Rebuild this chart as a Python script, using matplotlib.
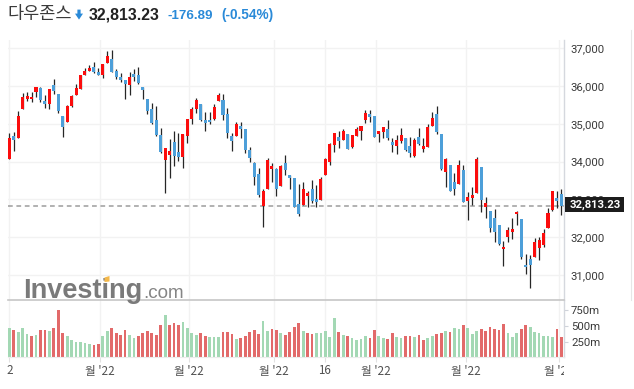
import matplotlib
matplotlib.use("Agg")
import matplotlib.pyplot as plt
import numpy as np
from matplotlib.transforms import Bbox, TransformedBbox, blended_transform_factory
from matplotlib.patches import Polygon, Rectangle
from matplotlib.lines import Line2D

# ---------------- data ----------------
opens = [
    34078, 34678, 34634, 35393, 35666, 35666, 35834, 35940, 35605, 35534,
    36028, 35790, 35208, 35058, 35481, 35772, 35931, 36302, 36408, 36505,
    36372, 36302, 36619, 36716, 36408, 36240, 36161, 36028, 36319, 36293,
    35975, 35658, 35393, 35102, 34705, 34043, 34184, 34519, 34255, 34122,
    34687, 35137, 35384, 35525, 35102, 35102, 35137, 35614, 35631, 35261,
    34678, 34687, 34943, 34864, 34308, 33972, 33673, 32834, 33284, 33813,
    33805, 33363, 33956, 33646, 33567, 32879, 32852, 33090, 33268, 33011,
    32985, 33646, 33998, 34440, 34644, 34573, 34731, 34395, 34679, 34819,
    35102, 35261, 35208, 34739, 34792, 34864, 34528, 34422, 34554, 34634,
    34414, 34149, 34644, 34342, 34395, 34951, 35261, 34731, 33734, 33911,
    33469, 33408, 33779, 32958, 33045, 33178, 33850, 32791, 32693, 32500,
    32323, 31680, 31997, 32145, 32614, 32474, 31264, 31423, 31484, 31722,
    31794, 32251, 32720, 33030, 33135]
highs = [
    34749, 34775, 35340, 35808, 35843, 35843, 35984, 35966, 35755, 35931,
    36178, 35790, 35208, 35499, 35764, 36046, 36293, 36487, 36558, 36646,
    36469, 36584, 36928, 36955, 36443, 36355, 36161, 36381, 36443, 36496,
    35975, 35658, 35552, 35464, 34881, 34361, 34590, 34802, 34749, 34731,
    35128, 35437, 35684, 35525, 35305, 35305, 35525, 35808, 35781, 35411,
    34749, 35040, 35040, 34864, 34396, 33999, 33824, 33268, 34104, 33956,
    33840, 33911, 34168, 33646, 33567, 33408, 33453, 33231, 33514, 33382,
    33601, 34088, 34501, 34766, 34811, 34864, 34731, 34697, 34925, 34943,
    35367, 35367, 35208, 34811, 34917, 35102, 34618, 34705, 34882, 34634,
    34644, 34618, 34882, 34618, 34988, 35322, 35473, 34731, 34088, 33911,
    33707, 34043, 33911, 33204, 33321, 34131, 33850, 33056, 32693, 32738,
    32323, 31907, 32262, 32500, 32701, 32474, 31555, 31529, 31971, 31997,
    32225, 32765, 33223, 33231, 33268]
lows = [
    34078, 34272, 34634, 35393, 35596, 35569, 35702, 35587, 35428, 35384,
    35790, 35278, 34661, 35058, 35437, 35772, 35931, 36302, 36408, 36337,
    36302, 36222, 36619, 36372, 36187, 36099, 35649, 35764, 36143, 36046,
    35649, 35252, 34996, 34678, 34219, 33162, 33559, 33875, 34025, 33824,
    34484, 34996, 35278, 35066, 34811, 34987, 35102, 35614, 35102, 34617,
    34290, 34687, 34634, 34237, 33981, 33374, 33072, 32278, 33284, 33469,
    33098, 33363, 33638, 33268, 32807, 32569, 32852, 32791, 32897, 32807,
    32985, 33646, 33911, 34263, 34353, 34573, 34342, 34353, 34679, 34573,
    35031, 35057, 34660, 34528, 34618, 34573, 34263, 34202, 34485, 34282,
    34115, 34130, 34440, 34263, 34395, 34951, 34724, 33779, 33321, 33231,
    33117, 33408, 32940, 32455, 32852, 33178, 32675, 32500, 32145, 31881,
    31794, 31237, 31881, 31944, 32323, 31415, 31026, 30647, 31484, 31396,
    31748, 32251, 32693, 32765, 32587]
closes = [
    34634, 34581, 35208, 35711, 35737, 35720, 35966, 35640, 35534, 35914,
    35878, 35349, 34925, 35472, 35737, 35949, 36293, 36399, 36478, 36381,
    36302, 36584, 36796, 36372, 36231, 36161, 36055, 36240, 36240, 36081,
    35896, 35349, 35031, 34705, 34264, 34361, 34272, 34149, 34130, 34731,
    35128, 35393, 35631, 35102, 35031, 35040, 35446, 35764, 35234, 34749,
    34555, 34996, 34864, 34308, 34087, 33601, 33117, 33223, 34043, 33884,
    33284, 33884, 33779, 33575, 32807, 32614, 33268, 33178, 32958, 32940,
    33540, 34070, 34467, 34750, 34554, 34811, 34342, 34697, 34856, 34943,
    35279, 35189, 34660, 34811, 34917, 34634, 34448, 34573, 34697, 34308,
    34221, 34573, 34467, 34422, 34925, 35163, 34792, 33797, 34062, 33231,
    33268, 33911, 32940, 33056, 33117, 34070, 32985, 32913, 32251, 32145,
    31820, 31732, 32190, 32209, 32675, 31468, 31203, 31264, 31865, 31926,
    32103, 32632, 33223, 32966, 32813.23]
# volume in millions
volumes = [
    473, 442, 410, 473, 378, 346, 362, 442, 442, 426,
    473, 761, 394, 346, 282, 250, 250, 234, 218, 202,
    218, 346, 426, 473, 394, 362, 442, 362, 314, 346,
    394, 426, 394, 362, 521, 681, 521, 553, 521, 569,
    473, 394, 362, 394, 346, 330, 330, 330, 410, 410,
    378, 298, 314, 346, 410, 442, 378, 585, 426, 458,
    442, 394, 362, 410, 489, 553, 426, 394, 370, 394,
    394, 426, 330, 633, 410, 362, 346, 314, 282, 298,
    346, 314, 442, 346, 314, 298, 383, 319, 303, 335,
    335, 319, 351, 271, 303, 335, 367, 383, 415, 399,
    463, 447, 511, 463, 367, 415, 447, 415, 479, 447,
    431, 527, 383, 319, 383, 447, 511, 479, 399, 383,
    335, 335, 319, 447, 319]
# 1 = green (up) volume bar, 0 = red (down) volume bar
volume_up = [
    1, 0, 1, 1, 1, 0, 1, 0, 0, 1,
    0, 0, 0, 1, 1, 1, 1, 1, 1, 0,
    0, 1, 1, 0, 0, 0, 0, 1, 1, 0,
    0, 0, 0, 0, 0, 1, 0, 0, 0, 1,
    1, 1, 1, 0, 0, 1, 1, 1, 0, 0,
    0, 1, 0, 0, 0, 0, 0, 1, 1, 0,
    0, 1, 0, 0, 0, 0, 1, 0, 0, 1,
    1, 1, 1, 1, 0, 1, 0, 1, 1, 1,
    1, 0, 0, 1, 1, 0, 0, 1, 1, 0,
    0, 1, 0, 0, 1, 1, 0, 0, 1, 0,
    1, 1, 0, 1, 1, 1, 0, 0, 0, 0,
    0, 0, 1, 1, 1, 0, 0, 1, 1, 1,
    1, 1, 1, 0, 0]

price_ticks = [31000, 32000, 33000, 34000, 35000, 36000, 37000]
volume_ticks = [250, 500, 750]
volume_tick_labels = ["250m", "500m", "750m"]
date_tick_pos = [0, 20.4, 40.4, 59.5, 70.9, 82.4, 102.6, 123.5]
date_tick_labels = ["2", "월 '22", "월 '22", "월 '22", "16", "월 '22", "월 '22", "월 '22"]

title = "다우존스"
last_price_text = "32,813.23"
change_text = "-176.89"
change_pct_text = "(-0.54%)"

# ---------------- styling ----------------
RED = "#fb0d0d"
BLUE = "#4d9fd9"
WICK = "#262626"
VOL_GREEN = "#a3d8b4"
VOL_RED = "#e26a6a"
GRID = "#f2f2f2"
TXT = "#3a3a3a"
CHG_BLUE = "#2a8ad8"
KR = ["Noto Sans CJK KR", "DejaVu Sans"]

W, H = 634, 389
fig = plt.figure(figsize=(W / 100, H / 100), dpi=100)
fig.patch.set_facecolor("white")


def fx(px):
    return px / W


def fy(py):
    return 1 - py / H


LEFT, RIGHT = 7.5, 564.0
P_TOP, P_BOT = 40.0, 299.7
V_BOT = 357.3
STEP = 4.452       # px between candles
X0 = 9.3           # px of first candle
PX_PER_1000 = 37.78
Y37000 = 48.3
VOL_PX_PER_M = 1 / 15.96

ax = fig.add_axes([fx(LEFT), fy(P_BOT), fx(RIGHT - LEFT), (P_BOT - P_TOP) / H])
axv = fig.add_axes([fx(LEFT), fy(V_BOT), fx(RIGHT - LEFT), (V_BOT - P_BOT) / H])

n = len(closes)
x = np.arange(n)
o = np.array(opens, float)
c = np.array(closes, float)
h = np.array(highs, float)
l = np.array(lows, float)
up = c >= o

xlim = ((LEFT - X0) / STEP, (RIGHT - X0) / STEP)
upp = 1000 / PX_PER_1000
ylim = (37000 - (P_BOT - Y37000) * upp, 37000 + (Y37000 - P_TOP) * upp)

for a in (ax, axv):
    a.set_xlim(*xlim)
    a.set_facecolor("none")
    for s in ("left", "top", "bottom"):
        a.spines[s].set_visible(False)
    a.spines["right"].set_color("#d5d8de")
    a.spines["right"].set_linewidth(1.0)
    a.set_xticks(date_tick_pos)
    a.grid(axis="x", color=GRID, lw=1.0, zorder=0)
    a.set_axisbelow(True)

ax.set_ylim(*ylim)
ax.set_yticks(price_ticks)
ax.set_yticklabels([f"{v:,}" for v in price_ticks])
ax.yaxis.tick_right()
ax.tick_params(axis="y", length=0, pad=4.6, labelsize=8.2, labelcolor=TXT)
for t in ax.get_yticklabels():
    t.set_fontfamily("Roboto")
ax.tick_params(axis="x", length=0, labelbottom=False)
ax.grid(axis="y", color=GRID, lw=1.0, zorder=0)

# candles
ax.vlines(x, l, h, color=WICK, lw=0.9, zorder=2)
body_bottom = np.minimum(o, c)
body_h = np.maximum(np.abs(c - o), 45)
ax.bar(x, body_h, bottom=body_bottom, width=0.68,
       color=np.where(up, RED, BLUE), linewidth=0, zorder=3)

# last price dashed line and label
last = closes[-1]
ax.axhline(last, color="#9c9c9c", lw=1.1, ls=(0, (3.1, 2.4)), zorder=1.5)
bt = blended_transform_factory(ax.transAxes, ax.transData)
axw = RIGHT - LEFT
box_h = 15 * upp
ax.add_patch(Rectangle((1 + 1.0 / axw, last - box_h / 2 + 1.6 * upp), 58.5 / axw, box_h,
                       transform=bt, facecolor="#1c1c1c", edgecolor="none",
                       clip_on=False, zorder=10))
ax.text(1 + 6.0 / axw, last + 1.6 * upp, last_price_text, transform=bt, ha="left",
        va="center", color="white", fontsize=8.1, fontweight="bold",
        family="Roboto", clip_on=False, zorder=11)

# volume panel
axv.set_ylim(0, (V_BOT - P_BOT) / VOL_PX_PER_M)
axv.bar(x, volumes, width=0.62, color=np.where(np.array(volume_up) == 1, VOL_GREEN, VOL_RED),
        linewidth=0, zorder=2)
axv.set_yticks(volume_ticks)
axv.set_yticklabels(volume_tick_labels)
axv.yaxis.tick_right()
axv.tick_params(axis="y", length=3.2, width=0.8, color="#cfd3da", pad=1.8,
                labelsize=8.2, labelcolor=TXT)
for t in axv.get_yticklabels():
    t.set_fontfamily("Roboto")
axv.tick_params(axis="x", length=3.4, width=0.8, color="#e2e2e2", labelbottom=False)
axv.spines["top"].set_visible(True)
axv.spines["top"].set_color("#c6c6c6")
axv.spines["top"].set_linewidth(1.2)
axv.spines["bottom"].set_visible(True)
axv.spines["bottom"].set_color("#ececec")
axv.spines["bottom"].set_linewidth(0.8)

# date labels (last one clipped at the price-axis line like the reference)
clip = TransformedBbox(Bbox([[0, 0], [fx(RIGHT), 1]]), fig.transFigure)
bx = blended_transform_factory(axv.transData, axv.transAxes)
yl = (V_BOT - 371.0) / (V_BOT - P_BOT)
for p, lab in zip(date_tick_pos, date_tick_labels):
    t = axv.text(p, yl, lab, transform=bx, ha="center", va="center",
                 fontsize=8.4, color="#505050", family=KR, clip_on=True)
    t.set_clip_box(clip)

# right border line
fig.add_artist(Line2D([fx(630.5), fx(630.5)], [fy(30), fy(300)],
                      transform=fig.transFigure, color="#e6e6e6", lw=0.8))

# header
fig.text(fx(7.5), fy(13.6), title, ha="left", va="center", fontsize=12.6,
         color=TXT, family=KR)
arrow = [(77.4, 9.6), (80.6, 9.6), (80.6, 13.6), (83.0, 13.6), (79.0, 19.6),
         (75.0, 13.6), (77.4, 13.6)]
fig.add_artist(Polygon([(fx(a), fy(b)) for a, b in arrow], closed=True,
                       transform=fig.transFigure, facecolor=CHG_BLUE, edgecolor="none"))
fig.text(fx(89), fy(19.4), last_price_text, ha="left", va="baseline", fontsize=11.4,
         fontweight="bold", color="#222222", family="Liberation Sans")
fig.text(fx(168), fy(19.2), change_text, ha="left", va="baseline", fontsize=9.6,
         fontweight="bold", color=CHG_BLUE, family="Liberation Sans")
fig.text(fx(221), fy(19.2), change_pct_text, ha="left", va="baseline", fontsize=9.8,
         fontweight="bold", color=CHG_BLUE, family="Liberation Sans")

# watermark logo
fig.text(fx(23), fy(297.5), "Investing", ha="left", va="baseline", fontsize=19.5,
         fontweight="bold", color="#7a7a7a", family="Liberation Sans", zorder=5)
fig.text(fx(143.5), fy(297.5), ".com", ha="left", va="baseline", fontsize=13.6,
         color="#858585", family="Liberation Sans", zorder=5)
fig.add_artist(Polygon([(fx(a), fy(b)) for a, b in
                        [(104.5, 277.5), (109.5, 276.0), (109.5, 281.5), (104.5, 282.0)]],
                       closed=True, transform=fig.transFigure,
                       facecolor="#f4b84a", edgecolor="none", zorder=6))

fig.savefig("out.png", dpi=100)
